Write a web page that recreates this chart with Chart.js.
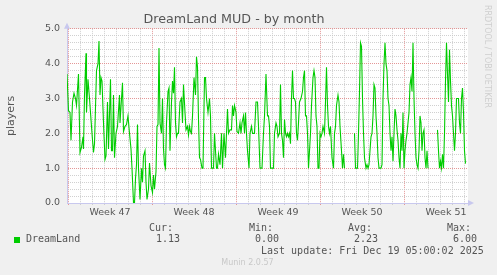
<!DOCTYPE html>
<html>
<head>
<meta charset="utf-8">
<script src="https://cdn.jsdelivr.net/npm/chart.js@4/dist/chart.umd.min.js"></script>
<style>
  html, body { margin: 0; padding: 0; background: #f0f0f0; }
  #wrap { width: 497px; height: 275px; position: relative; }
</style>
</head>
<body>
<div id="wrap"><canvas id="munin" width="497" height="275"></canvas></div>
<script>
// hours since monday of week 47 (2 hourly munin samples)
var hours = [
  -2, 1, 4, 6, 9, 12, 15, 17, 21, 24, 27, 30, 31, 33, 36, 37, 40, 43, 45, 48,
  51, 53, 57, 60, 62, 64, 66, 68, 71, 74, 76, 79, 81, 85, 87, 89, 91, 93, 96, 99,
  103, 104, 109, 111, 114, 117, 120, 123, 126, 128, 131, 133, 135, 137, 139, 141, 144, 147, 149, 151,
  154, 156, 158, 161, 163, 166, 169, 171, 173, 176, 178, 180, 182, 184, 187, 189, 191, 193, 195, 197,
  200, 202, 204, 207, 209, 211, 213, 215, 217, 219, 221, 224, 227, 229, 231, 234, 236, 239, 241, 243,
  245, 247, 249, 252, 255, 257, 259, 261, 263, 265, 268, 270, 273, 275, 277, 280, 283, 285, 287, 289,
  291, 293, 295, 297, 299, 301, 304, 307, 309, 312, 315, 317, 319, 321, 324, 327, 329, 331, 333, 336,
  338, 341, 344, 346, 348, 351, 353, 355, 357, 359, 362, 364, 367, 369, 371, 373, 376, 379, 381, 384,
  386, 388, 391, 393, 396, 399, 401, 403, 405, 408, 411, 413, 416, 418, 420, 423, 425, 427, 429, 431,
  433, 435, 437, 439, 441, 443, 445, 447, 449, 451, 453, 455, 457, 459, 461, 463, 466, 469, 471, 473,
  475, 477, 479, 481, 483, 485, 487, 490, 492, 494, 496, 498, 500, 502, 504, 506, 508, 510, 513, 515,
  517, 519, 521, 523, 525, 528, 531, 533, 535, 537, 540, 542, 544, 547, 549, 551, 553, 562, 573, 575,
  577, 579, 581, 583, 585, 587, 589, 591, 593, 596, 598, 600, 602, 604, 606, 608, 610, 612, 614, 616,
  618, 620, 622, 624, 626, 628, 630, 632, 634, 636, 638, 640, 642, 644, 646, 648, 650, 652, 654, 656,
  658, 660, 662, 664, 666, 668, 670, 672, 674, 676, 678, 680, 682, 684, 686, 688, 690, 692, 694, 696,
  698, 700, 702, 704, 706, 708, 710, 712, 714, 716, 718, 720, 730, 739, 741, 743, 745, 747, 749, 751,
  753, 755, 757, 759, 761, 763, 765, 767, 769, 771, 773, 775, 777, 779, 781, 783, 785, 787, 789, 791,
  793, 795
];
var players = [
  3.7, 2.65, 2.6, 1.8, 2.9, 3.15, 3.0, 2.8, 3.7, 1.45, 1.6, 1.9, 1.55, 3.1, 4.3, 2.6, 3.55, 3.0, 2.6, 2.0,
  1.45, 1.7, 3.8, 4.0, 4.65, 3.1, 3.6, 3.5, 2.3, 1.25, 1.35, 2.9, 1.55, 3.55, 1.5, 1.5, 3.1, 1.3, 2.0, 2.2,
  3.1, 2.3, 3.45, 2.05, 2.2, 2.25, 2.5, 2.0, 1.55, 1.0, 0.0, 0.0, 0.7, 1.1, 2.25, 1.0, 0.1, 1.0, 0.6, 1.35,
  1.5, 0.6, 0.1, 0.4, 1.15, 0.5, 0.3, 0.8, 0.4, 0.9, 2.2, 2.25, 4.45, 2.3, 2.0, 3.0, 1.55, 1.1, 1.0, 2.3,
  3.2, 3.3, 1.5, 2.9, 3.5, 3.15, 3.9, 2.3, 1.9, 2.0, 2.0, 2.9, 3.0, 2.3, 3.4, 2.6, 2.1, 2.2, 1.95, 2.2,
  2.05, 2.0, 2.5, 3.6, 3.1, 4.2, 3.9, 2.4, 1.3, 1.25, 1.0, 1.0, 3.6, 3.6, 3.0, 2.6, 3.0, 2.5, 1.0, 1.0,
  1.0, 2.0, 1.5, 1.0, 1.0, 1.4, 1.1, 2.0, 1.0, 2.0, 1.3, 2.0, 2.7, 2.0, 2.1, 2.1, 2.8, 2.5, 2.8, 2.6,
  2.05, 2.0, 2.3, 2.0, 2.3, 2.5, 2.0, 2.6, 2.0, 1.5, 1.0, 2.0, 2.2, 2.0, 2.0, 2.0, 2.9, 2.9, 2.2, 1.0,
  1.0, 1.0, 2.0, 2.5, 3.7, 2.5, 2.5, 2.2, 1.0, 1.0, 1.0, 2.0, 2.3, 2.2, 1.9, 2.0, 3.4, 2.0, 1.8, 1.3,
  2.4, 2.0, 1.9, 2.0, 1.9, 2.0, 1.7, 3.0, 3.8, 3.0, 3.0, 2.9, 2.0, 1.8, 2.3, 2.9, 3.0, 3.2, 3.6, 3.8,
  2.5, 2.5, 2.0, 1.0, 1.5, 2.0, 2.8, 3.6, 3.8, 3.6, 2.5, 2.2, 1.0, 1.0, 2.0, 1.9, 2.0, 2.2, 2.0, 2.9,
  3.9, 2.8, 2.2, 2.0, 2.2, 1.3, 1.0, 2.0, 2.2, 2.8, 3.1, 2.9, 2.2, 1.5, 1.0, 1.4, 1.0, null, 2.0, 1.0,
  1.0, 1.0, 2.0, 3.2, 4.6, 4.5, 3.0, 2.0, 1.3, 1.0, 1.1, 1.0, 1.1, 1.5, 1.9, 2.0, 2.5, 3.4, 3.3, 2.5,
  2.0, 1.3, 1.0, 1.0, 1.0, 1.1, 3.0, 4.0, 4.6, 4.0, 3.8, 3.0, 2.8, 2.0, 1.5, 1.9, 1.2, 2.0, 2.7, 2.5,
  2.1, 1.8, 1.3, 1.0, 2.0, 1.5, 2.6, 1.0, 1.5, 1.8, 2.0, 2.3, 2.6, 3.4, 3.6, 3.2, 4.6, 3.0, 2.0, 1.3,
  1.1, 1.0, 1.5, 2.5, 2.3, 1.5, 2.0, 2.1, 1.3, 1.0, 1.5, 1.0, null, 2.1, 1.5, 1.0, 1.2, 1.0, 1.4, 1.0,
  2.0, 3.5, 4.6, 3.7, 2.9, 4.4, 3.5, 2.8, 2.5, 2.0, 1.5, 2.0, 3.0, 3.0, 3.0, 2.3, 2.0, 3.0, 3.3, 2.6,
  1.5, 1.13
];
var weekNames = ["Week 47", "Week 48", "Week 49", "Week 50", "Week 51"];
var statNames = ["Cur:", "Min:", "Avg:", "Max:"];
var statValues = ["1.13", "0.00", "2.23", "6.00"];
var lastUpdate = "Last update: Fri Dec 19 05:00:02 2025";

var HOURS_DAY = 24, HOURS_WEEK = 168;
var MAJOR = "rgba(225,140,140,0.9)", MINOR = "rgba(200,200,200,0.85)", AXIS = "#c8c8ee";

var points = hours.map(function (h, i) { return { x: h, y: players[i] }; });

// 文字とか矢印とか (munin の飾り)
var muninDeco = {
  id: "muninDeco",
  beforeDraw: function (chart) {
    var ctx = chart.ctx, a = chart.chartArea;
    ctx.save();
    ctx.fillStyle = "#f0f0f0";
    ctx.fillRect(0, 0, chart.width, chart.height);
    ctx.fillStyle = "#ffffff";
    ctx.fillRect(a.left, a.top, a.right - a.left, a.bottom - a.top);
    ctx.restore();
  },
  afterDraw: function (chart) {
    var ctx = chart.ctx, a = chart.chartArea;
    ctx.save();
    // axis arrows
    ctx.fillStyle = AXIS;
    ctx.beginPath();
    ctx.moveTo(a.left - 3, a.top); ctx.lineTo(a.left + 3, a.top); ctx.lineTo(a.left, a.top - 6);
    ctx.fill();
    ctx.beginPath();
    ctx.moveTo(a.right, a.bottom - 3); ctx.lineTo(a.right, a.bottom + 3); ctx.lineTo(a.right + 6, a.bottom);
    ctx.fill();

    // rrdtool watermark
    ctx.translate(487.5, 5);
    ctx.rotate(Math.PI / 2);
    ctx.font = "8px 'DejaVu Sans'";
    ctx.fillStyle = "#cfcfcf";
    ctx.textAlign = "left";
    ctx.textBaseline = "middle";
    ctx.fillText("RRDTOOL / TOBI OETIKER", 0, 0);
    ctx.setTransform(1, 0, 0, 1, 0, 0);

    // legend + stats
    ctx.font = "10px 'DejaVu Sans Mono'";
    ctx.fillStyle = "#555";
    ctx.textBaseline = "middle";
    var statX = [149, 249, 348, 447];
    var valX = [156, 255, 354, 453];
    for (var i = 0; i < statNames.length; i++) {
      ctx.fillText(statNames[i], statX[i], 228.5);
      ctx.fillText(statValues[i], valX[i], 239.5);
    }
    ctx.fillStyle = "#00cc00";
    ctx.fillRect(14, 237, 6, 6);
    ctx.fillStyle = "#555";
    ctx.fillText("DreamLand", 26, 239.5);
    ctx.fillText(lastUpdate, 261, 251.5);

    ctx.font = "8px 'DejaVu Sans'";
    ctx.fillStyle = "#c8c8c8";
    ctx.textAlign = "center";
    ctx.fillText("Munin 2.0.57", 247.5, 263);
    ctx.restore();
  },
};

function isWhole(v) {
  return Math.abs(v - Math.round(v)) < 1e-6;
}

new Chart(document.getElementById("munin"), {
  type: "line",
  data: {
    datasets: [
      {
        label: "DreamLand",
        data: points,
        borderColor: "#00cc00",
        borderWidth: 1.1,
        pointRadius: 0,
        tension: 0,
        spanGaps: false,
      },
    ],
  },
  options: {
    responsive: false,
    animation: false,
    devicePixelRatio: 1,
    layout: { padding: { left: 0, top: 0, right: 29, bottom: 56 } },
    plugins: {
      legend: { display: false },
      tooltip: { enabled: false },
      title: {
        display: true,
        text: "DreamLand MUD - by month",
        color: "#555",
        font: { family: "DejaVu Sans", size: 12.7, weight: "normal" },
        padding: { top: 12, bottom: 1.6 },
      },
    },
    scales: {
      x: {
        type: "linear",
        min: -2,
        max: 800,
        afterBuildTicks: function (scale) {
          var t = [];
          for (var h = 0; h <= 792; h += 12) t.push({ value: h });
          scale.ticks = t;
        },
        afterFit: function (scale) { scale.height = 16; },
        ticks: {
          autoSkip: false,
          maxRotation: 0,
          padding: 2,
          color: "#555",
          font: { family: "DejaVu Sans", size: 9.5 },
          callback: function (v) {
            if ((v - 84) % HOURS_WEEK === 0) return weekNames[(v - 84) / HOURS_WEEK];
            return "";
          },
        },
        grid: {
          drawOnChartArea: true,
          tickLength: 2,
          color: function (c) {
            var v = c.tick ? c.tick.value : 0;
            if (v % HOURS_WEEK === 0) return MAJOR;
            if (v % HOURS_DAY === 0) return MINOR;
            return "rgba(0,0,0,0)";
          },
        },
        border: { display: true, color: AXIS, dash: [1, 1] },
      },
      y: {
        min: 0,
        max: 5,
        afterFit: function (scale) { scale.width = 67; },
        ticks: {
          stepSize: 0.2,
          autoSkip: false,
          padding: 7,
          color: "#555",
          font: { family: "DejaVu Sans", size: 9.5 },
          callback: function (v) { return isWhole(v) ? v.toFixed(1) : ""; },
        },
        grid: {
          drawTicks: false,
          color: function (c) {
            var v = c.tick ? c.tick.value : 0;
            return isWhole(v) ? MAJOR : MINOR;
          },
        },
        border: { display: true, color: AXIS, dash: [1, 1] },
        title: {
          display: true,
          text: "players",
          color: "#555",
          font: { family: "DejaVu Sans", size: 11 },
          padding: { top: 5, bottom: 0 },
        },
      },
    },
  },
  plugins: [muninDeco],
});
</script>
</body>
</html>
